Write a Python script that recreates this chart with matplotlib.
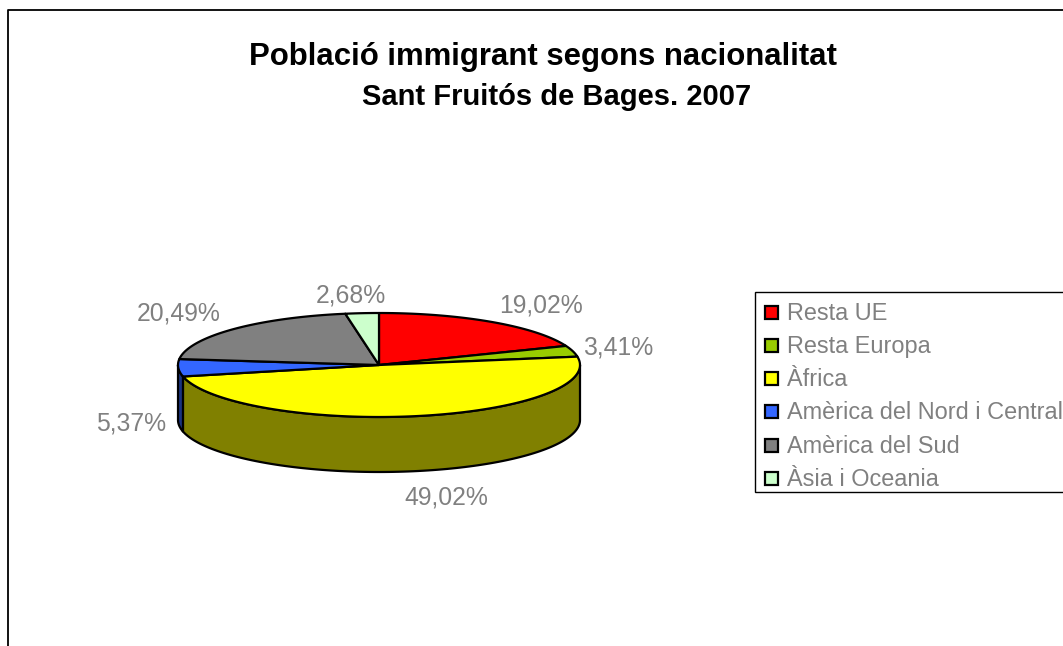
import numpy as np
import matplotlib
matplotlib.use("Agg")
import matplotlib.pyplot as plt
from matplotlib.patches import Polygon, Rectangle

# Data
categories = ["Resta UE", "Resta Europa", "Àfrica", "Amèrica del Nord i Central", "Amèrica del Sud", "Àsia i Oceania"]
values = [19.02, 3.41, 49.02, 5.37, 20.49, 2.68]
value_labels = ["19,02%", "3,41%", "49,02%", "5,37%", "20,49%", "2,68%"]
top_colors = ["#FF0000", "#99CC00", "#FFFF00", "#3366FF", "#808080", "#CCFFCC"]
side_colors = ["#800000", "#4D6600", "#808000", "#1A3380", "#404040", "#668066"]
title_lines = ["Població immigrant segons nacionalitat", "Sant Fruitós de Bages. 2007"]

W, H = 1063, 646
GREY = "#808080"
FONT = "Liberation Sans"

fig = plt.figure(figsize=(W / 100, H / 100), dpi=100)
ax = fig.add_axes([0, 0, 1, 1])
ax.set_xlim(0, W)
ax.set_ylim(H, 0)
ax.axis("off")

# Chart frame runs off the right and bottom edges
ax.plot([7.5, 7.5, W + 5], [H + 5, 10, 10], color="black", lw=1.3, clip_on=True)

# Title
ax.text(543, 57, title_lines[0], ha="center", va="center", family=FONT, weight="bold", fontsize=22.4)
ax.text(557, 97, title_lines[1], ha="center", va="center", family=FONT, weight="bold", fontsize=21)

# Pie geometry in pixels
cx, cy, rx, ry, depth = 379, 365, 201, 52, 55


def rim(a0, a1, n=120):
    t = np.linspace(a0, a1, n)
    return cx + rx * np.sin(t), cy - ry * np.cos(t)


edges = np.cumsum([0] + values) / sum(values) * 2 * np.pi

# Side wall, only the front half of the rim shows
for i in range(len(values)):
    a0 = max(edges[i], np.pi / 2)
    a1 = min(edges[i + 1], 3 * np.pi / 2)
    if a1 <= a0:
        continue
    x, y = rim(a0, a1)
    pts = np.column_stack([np.r_[x, x[::-1]], np.r_[y, y[::-1] + depth]])
    ax.add_patch(Polygon(pts, closed=True, fc=side_colors[i], ec="black", lw=1.6, joinstyle="round"))

# Top face
for i in range(len(values)):
    x, y = rim(edges[i], edges[i + 1])
    pts = np.column_stack([np.r_[cx, x], np.r_[cy, y]])
    ax.add_patch(Polygon(pts, closed=True, fc=top_colors[i], ec="black", lw=1.6, joinstyle="round"))

# Value labels
label_pos = [(541, 305), (618, 347), (446, 497), (131, 424), (179, 314), (351, 295)]
for (lx, ly), lab in zip(label_pos, value_labels):
    ax.text(lx, ly, lab, ha="center", va="center", color=GREY, family=FONT, fontsize=17.8)

# Legend
ax.add_patch(Rectangle((755, 292), W, 199.5, fc="white", ec="black", lw=1))
for i, name in enumerate(categories):
    ly = 312 + i * 33.3
    ax.add_patch(Rectangle((764.5, ly - 6.5), 13, 13, fc=top_colors[i], ec="black", lw=1.6))
    ax.text(787, ly + 1, name, ha="left", va="center", color=GREY, family=FONT, fontsize=16.9)

fig.savefig("out.png", dpi=100)
